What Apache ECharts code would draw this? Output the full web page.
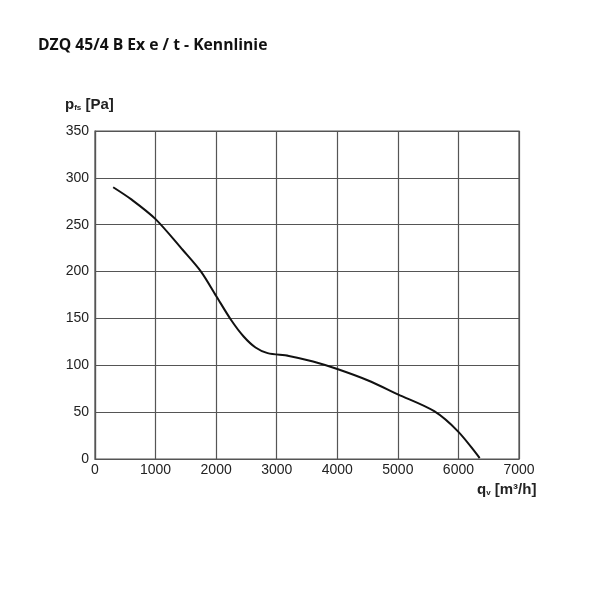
<!DOCTYPE html>
<html>
<head>
    <meta charset="UTF-8"/>
    <title>DZQ 45/4 B Ex e / t - Kennlinie</title>
    <script src="https://cdn.jsdelivr.net/npm/echarts@6/dist/echarts.min.js"></script>
<style type="text/css">
body   { margin: 0; background: #fff; }
#chart { width: 600px; height: 600px; }
</style>
</head>
<body>
<div id="chart"></div>
<script type="text/javascript">
// Kennlinie: Volumenstrom qv [m³/h] gegen statischen Druck pfs [Pa]
var flowValues     = [300, 600, 1000, 1450, 1750, 2000, 2250, 2450, 2650, 2850, 3200, 3600, 4000, 4500, 5000, 5600, 6000, 6350];
var pressureValues = [290, 277, 256, 223, 200, 174, 148, 131, 119, 113, 110, 104, 96, 84, 69, 51, 29, 1];
var xTicks = [0, 1000, 2000, 3000, 4000, 5000, 6000, 7000];
var yTicks = [0, 50, 100, 150, 200, 250, 300, 350];

var gridColor = '#555';
var labelFont = 'Liberation Sans, Arial, sans-serif';

window.onload = function () {
    var chart = echarts.init(document.getElementById('chart'));
    var points = [];
    for (var i = 0; i < flowValues.length; i++) {
        points.push([flowValues[i], pressureValues[i]]);
    }

    var option = {
        backgroundColor: '#fff',
        animation: false,
        title: {
            text: 'DZQ 45/4 B Ex e / t - Kennlinie',
            left: 38,
            top: 38,
            padding: 0,
            textStyle: { fontFamily: 'Open Sans', fontWeight: 'bold', fontSize: 15.7, color: '#111' }
        },
        grid: {
            left: 95, right: 81, top: 131, bottom: 141,
            show: true, borderColor: gridColor, borderWidth: 1.2
        },
        xAxis: {
            type: 'value',
            min: xTicks[0],
            max: xTicks[xTicks.length - 1],
            interval: xTicks[1] - xTicks[0],
            axisLine: { lineStyle: { color: gridColor, width: 1.2 } },
            axisTick: { show: false },
            splitLine: { lineStyle: { color: gridColor, width: 1.2 } },
            axisLabel: {
                color: '#222', fontSize: 14, fontFamily: labelFont, margin: 4,
                formatter: function (v) { return String(v); }
            }
        },
        yAxis: {
            type: 'value',
            min: yTicks[0],
            max: yTicks[yTicks.length - 1],
            interval: yTicks[1] - yTicks[0],
            axisLine: { lineStyle: { color: gridColor, width: 1.2 } },
            axisTick: { show: false },
            splitLine: { lineStyle: { color: gridColor, width: 1.2 } },
            axisLabel: { color: '#222', fontSize: 14, fontFamily: labelFont, margin: 6 }
        },
        graphic: [
            {
                type: 'text', left: 65, top: 97,
                style: {
                    text: '{b|p}{s|fs}{b| [Pa]}',
                    rich: {
                        b: { fontFamily: labelFont, fontWeight: 'bold', fontSize: 15, fill: '#222' },
                        s: { fontFamily: labelFont, fontWeight: 'bold', fontSize: 8, fill: '#222', verticalAlign: 'bottom', padding: [6, 0, 0, 0] }
                    }
                }
            },
            {
                type: 'text', left: 477, top: 482,
                style: {
                    text: '{b|q}{s|v}{b| [m³/h]}',
                    rich: {
                        b: { fontFamily: labelFont, fontWeight: 'bold', fontSize: 15, fill: '#222' },
                        s: { fontFamily: labelFont, fontWeight: 'bold', fontSize: 8, fill: '#222', verticalAlign: 'bottom', padding: [6, 0, 0, 0] }
                    }
                }
            }
        ],
        series: [{
            name: 'Kennlinie',
            type: 'line',
            data: points,
            smooth: 0.3,
            showSymbol: false,
            lineStyle: { color: '#111', width: 2 }
        }]
    };
    chart.setOption(option);
};
</script>
</body>
</html>
